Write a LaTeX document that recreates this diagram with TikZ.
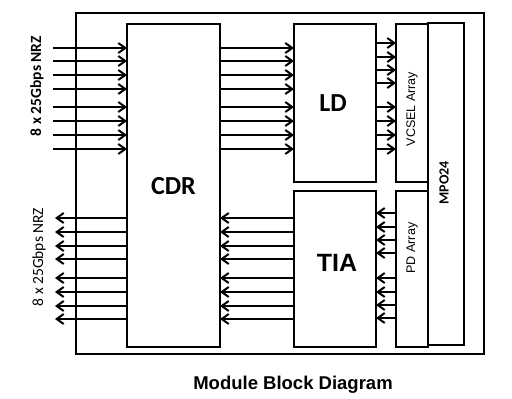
\documentclass[tikz,border=0pt]{standalone}
\usepackage{fontspec}
\setmainfont{Liberation Sans}
\newfontfamily\calfont{Carlito}
\usetikzlibrary{arrows.meta}

\begin{document}
\begin{tikzpicture}[x=1pt,y=-1pt,
    box/.style={draw,line width=1.3pt,inner sep=0pt,outer sep=0pt},
    sig/.style={line width=2pt,-{Straight Barb[length=7pt,width=10pt,line width=2pt]}},
    lab/.style={inner sep=1pt}]
  \useasboundingbox (0,0) rectangle (512,399);
  \node[box,minimum width=408pt,minimum height=341pt] (mod) at (280,183.5) {};
  \node[box,minimum width=93pt,minimum height=323pt] (cdr) at (173.5,185.5) {};
  \node[box,minimum width=82pt,minimum height=158pt] (ld) at (335,103) {};
  \node[box,minimum width=82pt,minimum height=156pt] (tia) at (335,269) {};
  \node[box,minimum width=36pt,minimum height=322pt] (mpo) at (446,184) {};
  \node[box,minimum width=32pt,minimum height=158pt] (vcsel) at (412,103) {};
  \node[box,minimum width=32pt,minimum height=156pt] (pd) at (412,269) {};
  \node[lab,font=\calfont\bfseries\fontsize{26}{28}\selectfont] at (173.5,186) {CDR};
  \node[lab,font=\calfont\bfseries\fontsize{26}{28}\selectfont] at (333,103) {LD};
  \node[lab,font=\bfseries\fontsize{25}{28}\selectfont] at (337,263) {TIA};
  \node[lab,rotate=90,font=\fontsize{12.5}{14}\selectfont] at (412,109) {VCSEL Array};
  \node[lab,rotate=90,font=\fontsize{12.5}{14}\selectfont] at (412,248) {PD Array};
  \node[lab,rotate=90,font=\calfont\bfseries\fontsize{14}{16}\selectfont] at (444,183) {MPO24};
  \node[lab,rotate=90,font=\calfont\bfseries\fontsize{15.5}{17}\selectfont] (inlab) at (37,86) {8 x 25Gbps NRZ};
  \node[lab,rotate=90,font=\calfont\fontsize{15.5}{17}\selectfont] (outlab) at (39,257) {8 x 25Gbps NRZ};
  \node[lab,font=\bfseries\fontsize{18.5}{20}\selectfont] (title) at (293,385) {Module Block Diagram};
  \coordinate (inL) at (53,0);
  \coordinate (outL) at (55,0);
  % transmit side
  \foreach \y in {48,61,75,89,107,121,135,149}{
    \draw[sig] (inL |- 0,\y) -- (cdr.west |- 0,\y);
    \draw[sig] (cdr.east |- 0,\y) -- (ld.west |- 0,\y);
  }
  \foreach \y in {43,57,70,83,107,121,135,149}{
    \draw[sig] (ld.east |- 0,\y) -- (vcsel.west |- 0,\y);
  }
  % receive side
  \foreach \y in {218,232,246,259,278,292,306,319}{
    \draw[sig] (tia.west |- 0,\y) -- (cdr.east |- 0,\y);
    \draw[sig] (cdr.west |- 0,\y) -- (outL |- 0,\y);
  }
  \foreach \y in {213,227,240,253,278,292,305,318}{
    \draw[sig] (pd.west |- 0,\y) -- (tia.east |- 0,\y);
  }
\end{tikzpicture}
\end{document}
